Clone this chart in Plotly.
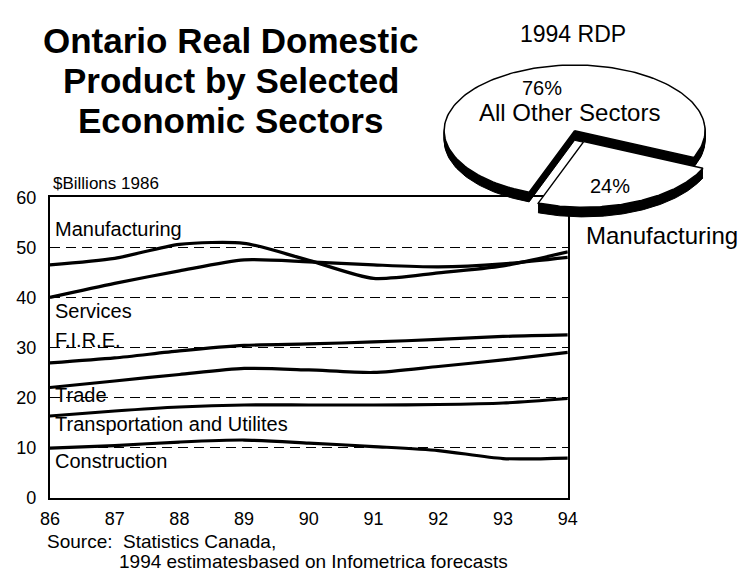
import numpy as np
import plotly.graph_objects as go

# ---------------- data ----------------
years = [86, 87, 88, 89, 90, 91, 92, 93, 94]
year_labels = ["86", "87", "88", "89", "90", "91", "92", "93", "94"]
manufacturing = [46.5, 47.8, 50.6, 50.8, 47.4, 43.8, 44.9, 46.3, 49.1]
services = [40.0, 42.8, 45.3, 47.5, 47.1, 46.5, 46.1, 46.7, 48.0]
fire = [26.9, 27.9, 29.3, 30.4, 30.7, 31.1, 31.6, 32.2, 32.5]
trade = [22.0, 23.3, 24.6, 25.8, 25.5, 25.0, 26.2, 27.5, 29.0]
transport = [16.3, 17.3, 18.1, 18.5, 18.5, 18.5, 18.6, 18.9, 19.8]
construction = [9.9, 10.4, 11.1, 11.5, 10.9, 10.2, 9.4, 7.8, 7.9]
series_names = ["Manufacturing", "Services", "F.I.R.E.", "Trade",
                "Transportation and Utilites", "Construction"]
series_values = [manufacturing, services, fire, trade, transport, construction]
label_y = [53.7, 37.3, 31.5, 20.4, 14.8, 7.3]
y_ticks = [0, 10, 20, 30, 40, 50, 60]

pie_labels = ["All Other Sectors", "Manufacturing"]
pie_shares = [76, 24]

W, H = 754, 580
FONT = "Liberation Sans, Arial, sans-serif"


def px(x, y):
    return x / W, 1 - y / H


fig = go.Figure()

for name, vals in zip(series_names, series_values):
    fig.add_trace(go.Scatter(x=years, y=vals, mode="lines", name=name,
                             line=dict(color="black", width=3.2, shape="spline", smoothing=0.7),
                             showlegend=False, hoverinfo="skip", xaxis="x", yaxis="y"))

# ---------------- 3D-style pie drawn on a pixel overlay ----------------
cx, cy, ra, rb, depth = 580.0, 125.0, 134.0, 68.0, 10
end_angle = -24.0  # degrees, end of the small slice
explode = 0.18

total = sum(pie_shares)
small_span = pie_shares[1] / total * 360.0
big_span = pie_shares[0] / total * 360.0
slices = [
    (end_angle, end_angle + big_span, 0.0),                 # big slice
    (end_angle - small_span, end_angle, explode),           # small slice
]


def slice_poly(t0, t1, ex):
    mid = np.radians((t0 + t1) / 2)
    ox = ex * ra * np.cos(mid)
    oy = -ex * rb * np.sin(mid)
    ts = np.radians(np.linspace(t0, t1, 150))
    xs = [cx + ox] + list(cx + ox + ra * np.cos(ts)) + [cx + ox]
    ys = [cy + oy] + list(cy + oy - rb * np.sin(ts)) + [cy + oy]
    return np.array(xs), np.array(ys)


for t0, t1, ex in slices:
    xs, ys = slice_poly(t0, t1, ex)
    for k in range(depth, 0, -1):
        fig.add_trace(go.Scatter(x=xs, y=ys + k, mode="lines", fill="toself", fillcolor="black",
                                 line=dict(color="black", width=1), showlegend=False,
                                 hoverinfo="skip", xaxis="x2", yaxis="y2"))
    fig.add_trace(go.Scatter(x=xs, y=ys, mode="lines", fill="toself", fillcolor="white",
                             line=dict(color="black", width=1.5), showlegend=False,
                             hoverinfo="skip", xaxis="x2", yaxis="y2"))

annotations = []
for name, ly in zip(series_names, label_y):
    annotations.append(dict(x=86, y=ly, xref="x", yref="y", text=name, showarrow=False,
                            xanchor="left", yanchor="middle", xshift=3,
                            font=dict(family=FONT, size=20, color="black")))


def add_text(x, y, text, size, anchor="center", bold=False):
    ax, ay = px(x, y)
    annotations.append(dict(x=ax, y=ay, xref="paper", yref="paper",
                            text=f"<b>{text}</b>" if bold else text, showarrow=False,
                            xanchor=anchor, yanchor="middle",
                            font=dict(family=FONT, size=size, color="black")))


add_text(227, 32, "Ontario Real Domestic", 35, bold=True)
add_text(227, 73, "Product by Selected", 35, bold=True)
add_text(227, 114, "Economic Sectors", 35, bold=True)
add_text(42, 180, "$Billions 1986", 17, anchor="left")
add_text(578, 25, "1994 RDP", 23)
add_text(547, 81, f"{pie_shares[0]}%", 20)
add_text(575, 106, pie_labels[0], 24)
add_text(616, 182, f"{pie_shares[1]}%", 20)
add_text(590, 234, pie_labels[1], 24, anchor="left")
add_text(36, 550, "Source:  Statistics Canada,", 19, anchor="left")
add_text(110, 571, "1994 estimatesbased on Infometrica forecasts", 19, anchor="left")

x0, _ = px(41, 0)
x1, _ = px(573, 0)
_, y0 = px(0, 505)
_, y1 = px(0, 194)

fig.update_layout(
    width=W, height=H, margin=dict(l=0, r=0, t=0, b=0),
    paper_bgcolor="white", plot_bgcolor="rgba(0,0,0,0)",
    showlegend=False,
    xaxis=dict(domain=[x0, x1], range=[86, 94], tickvals=years, ticktext=year_labels,
               showline=True, mirror=True, linecolor="black", linewidth=2,
               showgrid=False, zeroline=False, ticks="", ticklabelstandoff=4,
               tickfont=dict(family=FONT, size=18, color="black"), fixedrange=True),
    yaxis=dict(domain=[y0, y1], range=[0, 60], tickvals=y_ticks,
               showline=True, mirror=True, linecolor="black", linewidth=2,
               showgrid=True, gridcolor="black", gridwidth=1.2, griddash="10px,6px",
               zeroline=False, ticks="", ticklabelstandoff=8,
               tickfont=dict(family=FONT, size=18, color="black"), fixedrange=True),
    xaxis2=dict(domain=[0, 1], range=[0, W], visible=False, anchor="y2", fixedrange=True),
    yaxis2=dict(domain=[0, 1], range=[H, 0], visible=False, anchor="x2", fixedrange=True),
    annotations=annotations,
)

fig.write_html("out.html")
